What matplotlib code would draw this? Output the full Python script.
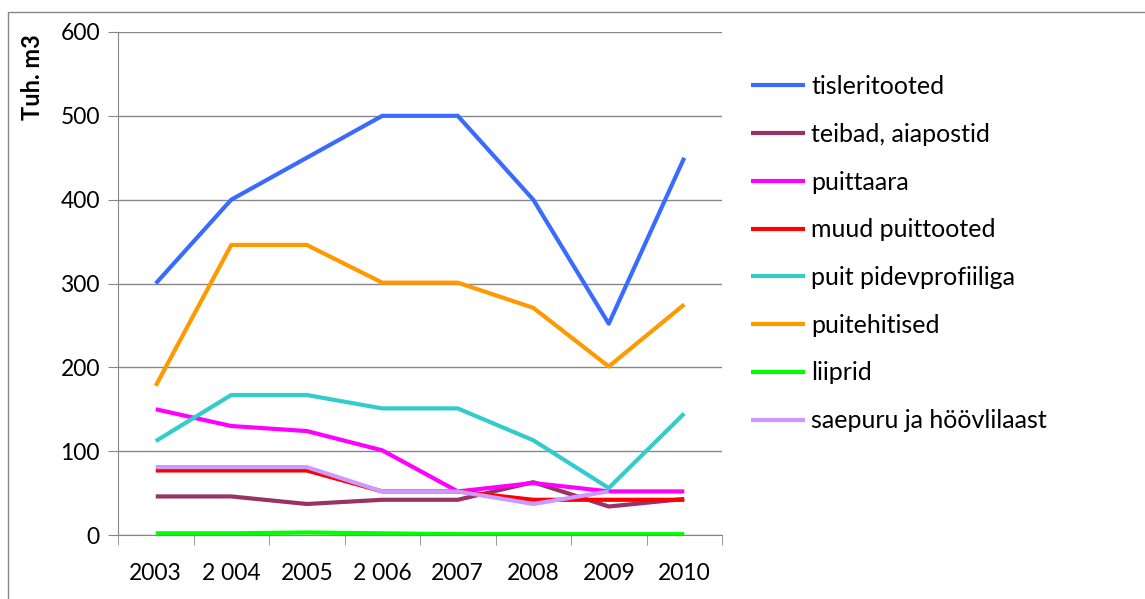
import matplotlib.pyplot as plt
import numpy as np
from matplotlib.patches import Rectangle

###############################################################################
# data

years = ['2003', '2 004', '2005', '2 006', '2007', '2008', '2009', '2010']

tisleritooted = [300, 400, 450, 500, 500, 400, 252, 450]
teibad = [46, 46, 37, 42, 42, 63, 34, 43]
puittaara = [150, 130, 124, 101, 52, 62, 52, 52]
muud_puittooted = [77, 77, 77, 52, 52, 42, 42, 42]
puit_pidevprofiiliga = [112, 167, 167, 151, 151, 113, 56, 145]
puitehitised = [178, 346, 346, 301, 301, 271, 201, 275]
liiprid = [2, 2, 3, 2, 1, 1, 1, 1]
saepuru = [81, 81, 81, 52, 52, 37, 52, np.nan]

series = [
    ('tisleritooted', tisleritooted, '#3a6bff'),
    ('teibad, aiapostid', teibad, '#993366'),
    ('puittaara', puittaara, '#ff00ff'),
    ('muud puittooted', muud_puittooted, '#ff0000'),
    ('puit pidevprofiiliga', puit_pidevprofiiliga, '#33cccc'),
    ('puitehitised', puitehitised, '#ff9900'),
    ('liiprid', liiprid, '#00ff00'),
    ('saepuru ja höövlilaast', saepuru, '#cc99ff'),
]

###############################################################################
# plot

plt.rcParams['font.family'] = ['Lato', 'DejaVu Sans']
W, H = 1145, 599
FS = 16.5
fig = plt.figure(figsize=(W / 100, H / 100), dpi=100)

# outer chart border
fig.patches.append(Rectangle((8 / W, -0.1), 1.2, 1 - 12 / H + 0.1,
                             transform=fig.transFigure, fill=False,
                             edgecolor='#868686', lw=1))

ax = fig.add_axes([118 / W, (H - 535) / H, (722 - 118) / W, (535 - 32) / H])
x = np.arange(len(years))
for name, vals, col in series:
    ax.plot(x, vals, color=col, lw=3, label=name, solid_capstyle='butt')

ax.set_ylim(0, 600)
ax.set_xlim(-0.5, len(years) - 0.5)
ax.set_yticks(range(0, 601, 100))
ax.yaxis.grid(True, color='#868686', lw=1)
ax.set_axisbelow(True)
ax.set_xticks(x)
ax.set_xticklabels(years)
ax.set_xticks(np.arange(-0.5, len(years), 1), minor=True)
ax.tick_params(axis='x', which='major', length=0, pad=20, labelsize=FS)
ax.tick_params(axis='x', which='minor', length=7, color='#868686')
ax.tick_params(axis='y', length=7, color='#868686', pad=6, labelsize=FS)

for s in ['top', 'right']:
    ax.spines[s].set_visible(False)
for s in ['left', 'bottom']:
    ax.spines[s].set_color('#868686')

fig.text(32 / W, 1 - 77 / H, 'Tuh. m3', rotation=90, ha='center',
         va='center', fontsize=17, fontweight='bold')

ax.legend(loc='upper left', bbox_to_anchor=(741 / W, 1 - 65 / H),
          bbox_transform=fig.transFigure, frameon=False, fontsize=18,
          handlelength=2.15, handletextpad=0.25, labelspacing=0.99,
          borderaxespad=0)

fig.savefig('out.png', dpi=100)
